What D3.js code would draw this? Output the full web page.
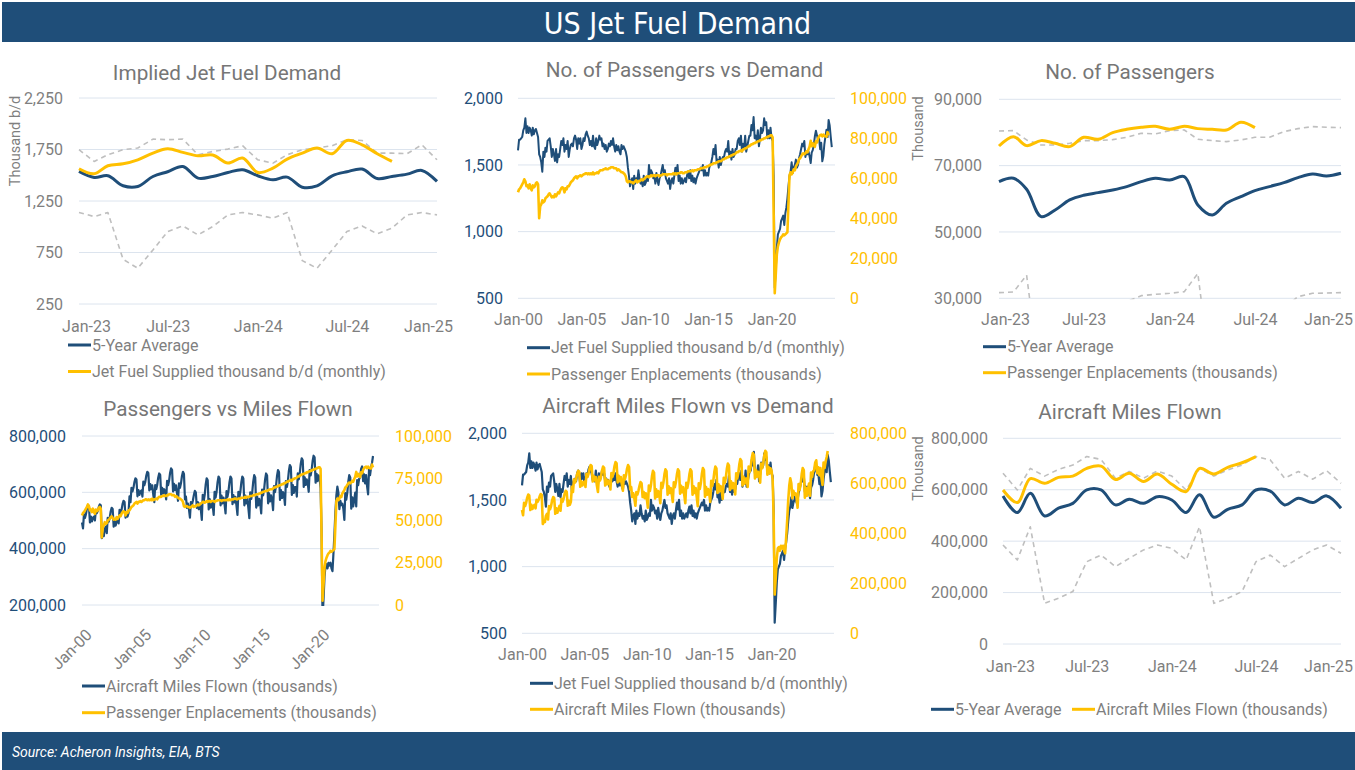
<!DOCTYPE html>
<html><head><meta charset="utf-8">
<script src="https://cdn.jsdelivr.net/npm/d3@7"></script>
<style>
body{margin:0;background:#fff;}
svg{display:block;font-family:Roboto,'Noto Sans',sans-serif;}
</style>
</head><body><svg id="c" width="1355" height="770"></svg>
<script>
// ---------------- DATA ----------------
// Monthly Jet Fuel Supplied, thousand b/d, Jan-2000 .. Oct-2024
const jetFuel = [
1610,1690,1690,1700,1710,1760,1780,1850,1740,1790,1740,1780,
1760,1720,1780,1730,1760,1770,1740,1710,1580,1560,1520,1450,
1600,1560,1630,1600,1680,1690,1700,1640,1560,1620,1580,1530,
1620,1520,1580,1560,1620,1680,1650,1700,1600,1650,1620,1680,
1560,1620,1650,1660,1640,1700,1720,1690,1620,1700,1660,1700,
1620,1650,1700,1680,1730,1750,1720,1700,1650,1680,1640,1720,
1640,1620,1700,1650,1680,1720,1690,1700,1640,1660,1620,1650,
1600,1620,1660,1640,1680,1650,1700,1640,1600,1650,1610,1640,
1600,1580,1650,1620,1640,1620,1600,1560,1480,1420,1340,1380,
1400,1320,1420,1360,1400,1380,1460,1400,1360,1380,1340,1420,
1350,1370,1400,1380,1500,1420,1460,1440,1400,1420,1360,1440,
1380,1350,1400,1420,1460,1500,1440,1460,1400,1380,1360,1400,
1320,1380,1400,1360,1420,1480,1430,1500,1380,1420,1360,1400,
1360,1380,1400,1370,1420,1450,1400,1460,1380,1420,1370,1400,
1360,1400,1420,1440,1460,1480,1460,1500,1420,1460,1420,1440,
1420,1480,1500,1520,1560,1620,1580,1650,1520,1540,1480,1560,
1500,1540,1560,1560,1600,1620,1600,1680,1560,1600,1540,1620,
1560,1580,1620,1620,1680,1700,1650,1720,1600,1660,1620,1720,
1600,1640,1680,1720,1720,1800,1760,1860,1700,1720,1680,1760,
1640,1700,1780,1740,1760,1850,1800,1820,1700,1760,1700,1780,
1700,1680,1420,580,720,880,980,1000,1020,1080,1100,1120,
1050,1140,1180,1250,1340,1420,1450,1520,1440,1480,1500,1540,
1480,1500,1550,1580,1620,1660,1640,1680,1560,1600,1580,1600,
1563,1514,1592,1611,1650,1715,1757,1722,1689,1696,1618,1667,
1527,1569,1657,1715,1764,1709,1838,1796,1709,1634
];
// Monthly Passenger Enplanements, thousands, Jan-2000 .. Jul-2024
const passengers = [
53000,54500,55000,56000,57000,58000,59500,58500,56000,56500,55000,57000,
55000,54000,56500,55500,56000,57500,58000,57000,40000,46000,47000,49000,
48000,48500,50000,50500,51000,52000,52500,51500,50500,51000,50500,52000,
51000,52000,53000,52500,54000,55000,55500,55000,53000,55000,54500,56000,
56000,57000,58000,58500,59000,60000,60500,61000,60000,61000,61000,61500,
61000,61500,62000,62000,62500,62500,62000,62500,62000,62500,62000,63000,
62000,62500,62500,63000,62500,63500,64000,64000,64000,64500,64500,65000,
64500,64500,65000,65000,65500,65500,65500,65000,65000,65000,64000,64500,
64000,63500,63000,63000,62500,62000,61000,58500,58000,58500,58500,58000,
58000,57500,58000,58500,59000,58000,58500,58500,59000,59500,59000,59500,
60000,60500,61000,61000,60500,61000,61500,61000,61500,61500,61000,61500,
61500,61500,61000,61500,61500,62000,62000,62000,62000,61500,62000,62000,
62000,62000,62000,62500,62000,62500,62000,62500,62500,62500,63000,63000,
62500,62500,63000,63000,63000,63500,63500,63500,63500,64000,63500,64000,
64000,64000,64500,64500,64500,65000,65000,65000,65500,65500,65500,66000,
66000,66500,66500,67000,67000,67500,67500,67500,68000,68000,68500,68500,
68500,69000,69500,69500,70000,70000,70500,70500,71000,71000,71500,71500,
72000,72000,72500,73000,73000,73500,73500,74000,73500,74500,74500,75000,
75000,75500,76000,76000,76500,77000,77000,77500,77500,78000,78000,78500,
78500,79000,79000,79500,79500,80000,80000,80500,80500,81000,81000,81500,
81500,80500,42000,2500,12000,22000,26000,28000,29500,30500,31000,32000,
31500,32000,32500,33000,47000,61500,63000,62000,63000,64500,64000,66000,
67000,68000,69500,70000,71000,72000,72500,72000,72500,73500,73000,74500,
75930,78740,76030,77540,76730,75730,78540,77940,79950,80950,81560,81860,
80950,81860,81160,80950,80750,83070,81460
];
// Monthly Aircraft Miles Flown, thousands, Jan-2000 .. Jul-2024
const milesFlown = [
493000,472000,522000,509000,522000,543000,555000,551000,493000,514000,497000,509000,
514000,500000,534000,526000,534000,548000,557000,554000,437000,450000,445000,470000,
478000,455000,509000,496000,509000,532000,545000,541000,478000,500000,482000,496000,
510000,490000,538000,526000,538000,558000,570000,566000,510000,530000,514000,526000,
586000,565000,616000,603000,616000,637000,650000,646000,586000,608000,591000,603000,
607000,585000,638000,625000,638000,660000,673000,669000,607000,629000,611000,625000,
591000,565000,626000,611000,626000,652000,667000,662000,591000,616000,596000,611000,
603000,575000,641000,625000,641000,669000,685000,680000,603000,630000,608000,625000,
596000,570000,632000,616000,632000,658000,673000,665000,575000,585000,545000,560000,
540000,510000,565000,555000,570000,590000,605000,600000,545000,565000,540000,560000,
539000,502000,591000,569000,591000,628000,650000,643000,539000,576000,546000,569000,
554000,520000,602000,581000,602000,636000,656000,649000,554000,588000,561000,581000,
558000,525000,604000,584000,604000,636000,656000,649000,558000,590000,564000,584000,
554000,520000,602000,581000,602000,636000,656000,649000,554000,588000,561000,581000,
546000,508000,600000,577000,600000,638000,661000,653000,546000,585000,554000,577000,
561000,525000,610000,589000,610000,646000,667000,660000,561000,596000,568000,589000,
573000,537000,622000,601000,622000,658000,679000,672000,573000,608000,580000,601000,
591000,555000,640000,619000,640000,676000,697000,690000,591000,626000,598000,619000,
619000,585000,667000,646000,667000,701000,721000,714000,619000,653000,626000,646000,
634000,602000,679000,660000,679000,711000,730000,724000,634000,666000,640000,660000,
650000,615000,470000,155000,220000,300000,340000,345000,330000,350000,340000,350000,
330000,320000,380000,450000,530000,590000,620000,600000,540000,570000,555000,560000,
542000,502000,597000,574000,597000,637000,661000,653000,542000,582000,550000,574000,
599000,550000,643000,625000,648000,653000,683000,692000,640000,664000,632000,661000,
621000,593000,683000,661000,687000,705000,729000
];
// Jan-2023 .. Jan-2025 five-year statistics (monthly)
const jetAvg5 = [1537,1478,1495,1398,1391,1488,1534,1585,1472,1488,1527,1553,1495,1456,1482,1384,1397,1495,1534,1560,1469,1488,1511,1547,1440];
const jetMax5 = [1748,1634,1699,1748,1764,1851,1845,1851,1699,1731,1754,1787,1650,1618,1699,1748,1764,1787,1845,1838,1715,1715,1709,1796,1650];
const jetMin5 = [1138,1099,1138,684,597,775,953,1008,921,1002,1115,1138,1115,1083,1138,671,597,775,953,1008,931,986,1115,1138,1115];
const paxAvg5 = [65180,66180,62860,54620,56630,59650,61060,61860,62660,63670,65180,66180,65680,66690,58140,55120,58640,60650,62460,63670,64880,66380,67490,66890,67690];
const paxMax5 = [80450,80550,77740,76230,76230,76730,77540,77540,77840,78540,79750,79550,80550,80750,77940,77540,77240,77740,78540,78540,80250,81160,81760,81560,81460];
const paxMin5 = [31700,31900,37000,3000,8000,16000,22000,25000,26000,29000,30800,31200,31500,32000,37500,3000,8000,16000,22000,25000,27000,30500,31500,31600,31700];
const milesAvg5 = [576000,511000,586000,498000,528000,547000,599000,599000,541000,563000,547000,573000,560000,511000,580000,493000,524000,541000,599000,595000,541000,567000,550000,576000,528000];
const milesMax5 = [664000,599000,683000,653000,679000,696000,729000,718000,645000,671000,645000,673000,653000,599000,683000,653000,677000,696000,729000,716000,645000,671000,641000,674000,625000];
const milesMin5 = [385000,327000,456000,158000,178000,204000,320000,346000,301000,333000,366000,385000,372000,327000,456000,158000,178000,204000,320000,346000,301000,333000,366000,385000,353000];

const longTickLabels = ["Jan-00","Jan-05","Jan-10","Jan-15","Jan-20"];
const shortTickLabels = ["Jan-23","Jul-23","Jan-24","Jul-24","Jan-25"];

// ---------------- STYLE ----------------
const NAVY="#1F4E79", GOLD="#FFC000", GRAY="#7F7F7F", TITLE="#767676", GRID="#DCE4EE", DASH="#BFBFBF";
const FS = "16px";
const svg = d3.select("#c");
const defs = svg.append("defs");
const parse = d3.timeParse("%b-%y");
const fmtM = d3.timeFormat("%b-%y");

const toSeries = (arr, y0, m0) => arr.map((v,i)=>({date:new Date(y0, m0+i, 1), v}));
const jetS = toSeries(jetFuel,2000,0), paxS = toSeries(passengers,2000,0), milesS = toSeries(milesFlown,2000,0);
const recent = s => s.filter(d=>d.date >= new Date(2023,0,1));
const longDom = [new Date(2000,0,1), new Date(2025,0,1)];
const shortDom = [new Date(2023,0,1), new Date(2025,0,1)];

// header / footer
svg.append("rect").attr("x",2).attr("y",2).attr("width",1353).attr("height",40).attr("fill",NAVY);
svg.append("text").attr("x",677.5).attr("y",23).attr("text-anchor","middle").attr("dominant-baseline","central")
  .attr("fill","#fff").style("font-family","'DejaVu Sans Condensed','Liberation Sans Narrow','DejaVu Sans',sans-serif")
  .style("font-stretch","condensed").style("font-size","30px").text("US Jet Fuel Demand");
svg.append("rect").attr("x",2).attr("y",732).attr("width",1353).attr("height",38).attr("fill",NAVY);
svg.append("text").attr("x",12).attr("y",752).attr("dominant-baseline","central").attr("fill","#fff")
  .style("font-style","italic").style("font-size","14px").text("Source: Acheron Insights, EIA, BTS");

let clipId = 0;
function panel(c){
  const g = svg.append("g");
  const x = d3.scaleTime().domain(c.xDomain).range(c.xRange);
  const y = d3.scaleLinear().domain(c.yDomain).range(c.yRange);
  const y2 = c.y2Domain ? d3.scaleLinear().domain(c.y2Domain).range(c.yRange) : null;
  const yTicks = d3.range(c.yDomain[0], c.yDomain[1] + 1, c.yStep);

  // title
  g.append("text").attr("x",c.title[1]).attr("y",c.title[2]).attr("text-anchor","middle")
    .attr("fill",TITLE).style("font-size","20.7px").text(c.title[0]);
  // gridlines
  g.append("g").selectAll("line").data(yTicks).join("line")
    .attr("x1",c.xRange[0]).attr("x2",c.xRange[1]).attr("y1",d=>y(d)).attr("y2",d=>y(d))
    .attr("stroke",GRID).attr("stroke-width",1);
  // left axis labels
  const la = g.append("g").attr("transform",`translate(${c.yLabelX},0)`)
    .call(d3.axisLeft(y).tickValues(yTicks).tickSize(0).tickPadding(0).tickFormat(d3.format(",")));
  la.select(".domain").remove();
  la.attr("font-size",null).attr("font-family",null);
  la.selectAll("text").attr("fill",c.yColor).style("font-size",FS);
  // right axis labels
  if (y2){
    const r = g.append("g").attr("transform",`translate(${c.y2LabelX},0)`)
      .call(d3.axisRight(y2).tickValues(d3.range(c.y2Domain[0], c.y2Domain[1]+1, c.y2Step)).tickSize(0).tickPadding(0).tickFormat(d3.format(",")));
    r.select(".domain").remove();
    r.attr("font-size",null).attr("font-family",null);
    r.selectAll("text").attr("fill",GOLD).style("font-size",FS);
  }
  // y title
  if (c.yTitle){
    g.append("text").attr("transform",`translate(${c.yTitle[1]},${c.yTitle[2]}) rotate(-90)`)
      .attr("text-anchor","middle").attr("dominant-baseline","central").attr("fill",GRAY)
      .style("font-size","14.5px").text(c.yTitle[0]);
  }
  // x axis
  const xa = g.append("g").attr("transform",`translate(0,${c.xLabelY})`)
    .call(d3.axisBottom(x).tickValues(c.xTicks.map(parse)).tickSize(0).tickPadding(0).tickFormat(fmtM));
  xa.select(".domain").remove();
  xa.attr("font-size",null).attr("font-family",null);
  const xt = xa.selectAll("text").attr("fill",GRAY).style("font-size",FS).attr("y",0).attr("dy","0.35em");
  if (c.rotate){
    xt.attr("text-anchor","end").attr("dy","0.35em").attr("transform","translate(6.5,0) rotate(-45)");
  } else {
    xt.attr("dx",(d,i)=> i===0 ? c.firstShift : (i===c.xTicks.length-1 ? c.lastShift : 0));
  }
  // plot clip
  const pid = "pc"+(clipId++);
  defs.append("clipPath").attr("id",pid).append("rect")
    .attr("x",c.xRange[0]-3).attr("y",c.yRange[1]-3)
    .attr("width",c.xRange[1]-c.xRange[0]+6).attr("height",c.yRange[0]-c.yRange[1]+4);
  const pg = g.append("g").attr("clip-path",`url(#${pid})`);
  c.series.forEach(s=>{
    const sc = s.right ? y2 : y;
    const line = d3.line().x(d=>x(d.date)).y(d=>sc(d.v)).curve(s.smooth ? d3.curveCatmullRom.alpha(0.5) : d3.curveLinear);
    pg.append("path").datum(s.data).attr("d",line).attr("fill","none")
      .attr("stroke",s.color).attr("stroke-width",s.w).attr("stroke-linejoin","round")
      .attr("stroke-dasharray",s.dash || null);
  });
  // legend
  c.legend.forEach(l=>{
    g.append("line").attr("x1",l[2]).attr("x2",l[2]+23).attr("y1",l[3]).attr("y2",l[3])
      .attr("stroke",l[1]).attr("stroke-width",3);
    g.append("text").attr("x",l[2]+24).attr("y",l[3]).attr("dominant-baseline","central")
      .attr("fill",GRAY).style("font-size",FS).text(l[0]);
  });
}

const shortData = (arr) => toSeries(arr,2023,0);

// Panel 1
panel({
  title:["Implied Jet Fuel Demand",227,80],
  xDomain:shortDom, xRange:[79,437], yDomain:[250,2250], yStep:500, yRange:[304,98],
  yLabelX:63, yColor:GRAY, yTitle:["Thousand b/d",15,141],
  xTicks:shortTickLabels, xLabelY:326, firstShift:7, lastShift:-9,
  series:[
    {data:shortData(jetMax5), color:DASH, w:1.6, dash:"5,4"},
    {data:shortData(jetMin5), color:DASH, w:1.6, dash:"5,4"},
    {data:shortData(jetAvg5), color:NAVY, w:3, smooth:true},
    {data:recent(jetS), color:GOLD, w:3, smooth:true}
  ],
  legend:[["5-Year Average",NAVY,68,345],["Jet Fuel Supplied thousand b/d (monthly)",GOLD,68,371.5]]
});
// Panel 2
panel({
  title:["No. of Passengers vs Demand",684.5,77],
  xDomain:longDom, xRange:[518,835], yDomain:[500,2000], yStep:500, yRange:[298.3,98.3],
  yLabelX:503, yColor:NAVY, y2Domain:[0,100000], y2Step:20000, y2LabelX:850,
  xTicks:longTickLabels, xLabelY:319.5, firstShift:0, lastShift:0,
  series:[
    {data:jetS, color:NAVY, w:2},
    {data:paxS, color:GOLD, w:2.6, right:true}
  ],
  legend:[["Jet Fuel Supplied thousand b/d (monthly)",NAVY,527,347.7],["Passenger Enplacements (thousands)",GOLD,527,374]]
});
// Panel 3
panel({
  title:["No. of Passengers",1130,79],
  xDomain:shortDom, xRange:[999,1341], yDomain:[30000,90000], yStep:20000, yRange:[298.3,99.3],
  yLabelX:982, yColor:GRAY, yTitle:["Thousand",918,128.5],
  xTicks:shortTickLabels, xLabelY:319.5, firstShift:6, lastShift:-13,
  series:[
    {data:shortData(paxMax5), color:DASH, w:1.6, dash:"5,4"},
    {data:shortData(paxMin5), color:DASH, w:1.6, dash:"5,4"},
    {data:shortData(paxAvg5), color:NAVY, w:3, smooth:true},
    {data:recent(paxS), color:GOLD, w:3, smooth:true}
  ],
  legend:[["5-Year Average",NAVY,983,346.7],["Passenger Enplacements (thousands)",GOLD,983,372.7]]
});
// Panel 4
panel({
  title:["Passengers vs Miles Flown",228,416],
  xDomain:longDom, xRange:[82,379], yDomain:[200000,800000], yStep:200000, yRange:[605,436],
  yLabelX:66, yColor:NAVY, y2Domain:[0,100000], y2Step:25000, y2LabelX:395,
  xTicks:longTickLabels, xLabelY:632, rotate:true,
  series:[
    {data:milesS, color:NAVY, w:2.2},
    {data:paxS, color:GOLD, w:2.6, right:true}
  ],
  legend:[["Aircraft Miles Flown (thousands)",NAVY,82,686],["Passenger Enplacements (thousands)",GOLD,82,712.7]]
});
// Panel 5
panel({
  title:["Aircraft Miles Flown vs Demand",688,413],
  xDomain:longDom, xRange:[522,834], yDomain:[500,2000], yStep:500, yRange:[633.3,433.3],
  yLabelX:507, yColor:NAVY, y2Domain:[0,800000], y2Step:200000, y2LabelX:850,
  xTicks:longTickLabels, xLabelY:654.5, firstShift:0, lastShift:0,
  series:[
    {data:jetS, color:NAVY, w:2.2},
    {data:milesS, color:GOLD, w:2.6, right:true}
  ],
  legend:[["Jet Fuel Supplied thousand b/d (monthly)",NAVY,530,683.3],["Aircraft Miles Flown (thousands)",GOLD,530,709.3]]
});
// Panel 6
panel({
  title:["Aircraft Miles Flown",1130,419],
  xDomain:shortDom, xRange:[1003,1341], yDomain:[0,800000], yStep:200000, yRange:[644,438.3],
  yLabelX:988, yColor:GRAY, yTitle:["Thousand",918,468.5],
  xTicks:shortTickLabels, xLabelY:666, firstShift:7, lastShift:-13,
  series:[
    {data:shortData(milesMax5), color:DASH, w:1.6, dash:"5,4"},
    {data:shortData(milesMin5), color:DASH, w:1.6, dash:"5,4"},
    {data:shortData(milesAvg5), color:NAVY, w:3, smooth:true},
    {data:recent(milesS), color:GOLD, w:3, smooth:true}
  ],
  legend:[["5-Year Average",NAVY,931,709.3],["Aircraft Miles Flown (thousands)",GOLD,1072,709.3]]
});
</script></body></html>
